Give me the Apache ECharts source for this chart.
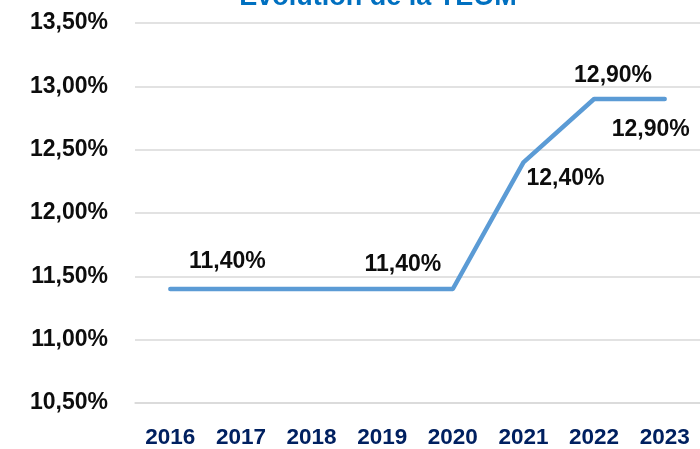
<!DOCTYPE html>
<html lang="fr">

<head>
    <meta charset="UTF-8">
    <title>Evolution de la TEOM</title>
    <script src="https://cdnjs.cloudflare.com/ajax/libs/echarts/6.0.0/echarts.min.js"></script>
    <style>
        html, body { margin: 0; padding: 0; background: #fff; }
    </style>
</head>

<body>
    <div id="ech" style="width:700px;height:449px;"></div>
    <script>
        // données
        const years = ['2016', '2017', '2018', '2019', '2020', '2021', '2022', '2023'];
        const teom = [11.40, 11.40, 11.40, 11.40, 11.40, 12.40, 12.90, 12.90];
        // étiquettes affichées (null = pas d'étiquette) et leur décalage [dx, dy]
        const labelOffsets = [[57, -27], null, null, null, [-50, -24], [42, 16], [19, -23], [-14, 31]];

        const fmt = v => v.toFixed(2).replace('.', ',') + '%';
        const font = '"Liberation Sans", Arial, sans-serif';

        let my_echart = echarts.init(document.getElementById('ech'));
        let option = {
            title: {
                text: 'Evolution de la TEOM',
                left: 373,
                textAlign: 'center',
                top: -21,
                textStyle: { color: '#0070C0', fontSize: 27, fontWeight: 'bold', fontFamily: font }
            },
            grid: { left: 135, right: -3, top: 23, bottom: 44, containLabel: false },
            xAxis: {
                type: 'category',
                data: years,
                axisTick: { show: false },
                axisLine: { lineStyle: { color: '#d9d9d9', width: 1.5 } },
                axisLabel: { margin: 23, color: '#002060', fontSize: 22.5, fontWeight: 'bold', fontFamily: font }
            },
            yAxis: {
                type: 'value',
                min: 10.5,
                max: 13.5,
                interval: 0.5,
                axisLine: { show: false },
                axisTick: { show: false },
                axisLabel: { margin: 27, color: '#0d0d0d', fontSize: 23, fontWeight: 'bold', fontFamily: font, formatter: fmt },
                splitLine: { lineStyle: { color: '#d9d9d9', width: 1.5 } }
            },
            series: [{
                type: 'line',
                data: teom.map((v, i) => ({
                    value: v,
                    label: { offset: labelOffsets[i] || [0, 0] }
                })),
                label: {
                    show: true,
                    position: 'inside',
                    formatter: p => labelOffsets[p.dataIndex] ? fmt(p.value) : '',
                    color: '#0d0d0d',
                    fontSize: 23,
                    fontWeight: 'bold',
                    fontFamily: font
                },
                showSymbol: true,
                symbol: 'circle',
                symbolSize: 2,
                itemStyle: { color: 'rgba(0,0,0,0)', borderWidth: 0 },
                lineStyle: { color: '#5B9BD5', width: 4.5, cap: 'round', join: 'round' },
                animation: false
            }]
        };
        my_echart.setOption(option);
    </script>
</body>

</html>
